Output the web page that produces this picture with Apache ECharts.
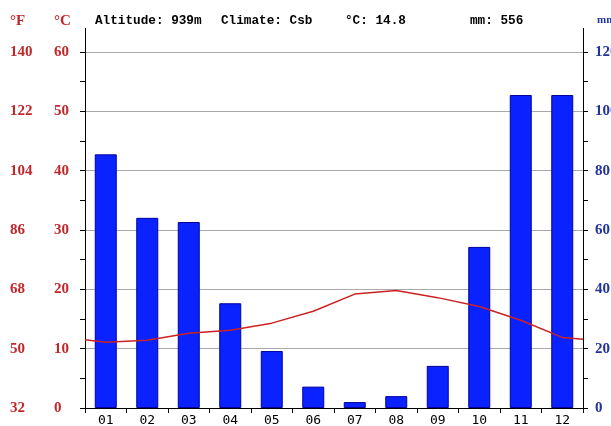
<!DOCTYPE html>
<html><head><meta charset="utf-8">
<script src="https://cdn.jsdelivr.net/npm/echarts@6/dist/echarts.min.js"></script>
<style>html,body{margin:0;padding:0;background:#fff}#c{width:611px;height:426px}</style>
</head><body><div id="c"></div>
<script>
const months = ['01','02','03','04','05','06','07','08','09','10','11','12'];
const precipMM = [85.5, 64.1, 62.7, 35.3, 19.2, 7.2, 2.0, 4.0, 14.2, 54.3, 105.5, 105.5];
const tempC = [11.1, 11.4, 12.6, 13.1, 14.3, 16.3, 19.2, 19.8, 18.6, 17.1, 14.8, 11.9];
const tempEdgeLeft = 11.5, tempEdgeRight = 11.6;
const celsiusTicks = [0, 10, 20, 30, 40, 50, 60];
const fahrenheitLabels = ['32','50','68','86','104','122','140'];
const mmTicks = [0, 20, 40, 60, 80, 100, 120];
const altitude = '939m', climate = 'Csb', meanC = '14.8', totalMM = '556';

const tempPoints = [[0, tempEdgeLeft]].concat(tempC.map((v, i) => [i + 0.5, v])).concat([[12, tempEdgeRight]]);

const red = '#c0282c', navy = '#2233a0';
const GL = 85, GR = 28, GT = 52, GB = 18;
const chart = echarts.init(document.getElementById('c'));
const hdrFont = 'bold 12.7px "Liberation Mono"';
const axFont = 'Liberation Serif';
chart.setOption({
  animation: false,
  grid: { left: GL, right: GR, top: GT, bottom: GB, outerBoundsMode: 'none', containLabel: false },
  graphic: [
    { type: 'text', left: 95, top: 14, style: { text: 'Altitude: ' + altitude, font: hdrFont, fill: '#000' } },
    { type: 'text', left: 221, top: 14, style: { text: 'Climate: ' + climate, font: hdrFont, fill: '#000' } },
    { type: 'text', left: 345, top: 14, style: { text: '°C: ' + meanC, font: hdrFont, fill: '#000' } },
    { type: 'text', left: 470, top: 14, style: { text: 'mm: ' + totalMM, font: hdrFont, fill: '#000' } },
    { type: 'text', left: 10, top: 14, style: { text: '°F', font: 'bold 15px "' + axFont + '"', fill: red } },
    { type: 'text', left: 54, top: 14, style: { text: '°C', font: 'bold 15px "' + axFont + '"', fill: red } },
    { type: 'text', left: 597, top: 15, style: { text: 'mm', font: 'bold 11px "' + axFont + '"', fill: navy } },
    { type: 'line', shape: { x1: GL + 0.5, y1: 28, x2: GL + 0.5, y2: GT }, style: { stroke: '#000', lineWidth: 1 } },
    { type: 'line', shape: { x1: 611 - GR + 0.5, y1: 28, x2: 611 - GR + 0.5, y2: GT }, style: { stroke: '#000', lineWidth: 1 } }
  ],
  xAxis: [
    { type: 'category', data: months, boundaryGap: true,
      axisLine: { lineStyle: { color: '#000', width: 1 } },
      axisTick: { show: true, length: 5, lineStyle: { color: '#000' } },
      axisLabel: { color: '#000', fontFamily: 'DejaVu Sans Mono', fontSize: 13, margin: 6 } },
    { type: 'value', min: 0, max: 12, show: false }
  ],
  yAxis: [
    { type: 'value', position: 'left', min: 0, max: 60, interval: 10,
      axisLine: { show: true, lineStyle: { color: '#000' } },
      axisTick: { show: true, length: 5, lineStyle: { color: '#000' } },
      minorTick: { show: true, splitNumber: 2, length: 5, lineStyle: { color: '#000' } },
      splitLine: { show: true, lineStyle: { color: '#aaaaaa', width: 1 } },
      axisLabel: { color: red, fontFamily: axFont, fontWeight: 'bold', fontSize: 15, align: 'left', margin: 31,
        formatter: v => String(celsiusTicks[v / 10]) } },
    { type: 'value', position: 'left', min: 0, max: 60, interval: 10,
      axisLine: { show: false }, axisTick: { show: false }, splitLine: { show: false },
      axisLabel: { color: red, fontFamily: axFont, fontWeight: 'bold', fontSize: 15, align: 'left', margin: 75,
        formatter: v => fahrenheitLabels[v / 10] } },
    { type: 'value', position: 'right', min: 0, max: 120, interval: 20,
      axisLine: { show: true, lineStyle: { color: '#000' } },
      axisTick: { show: true, length: 5, lineStyle: { color: '#000' } },
      minorTick: { show: true, splitNumber: 2, length: 5, lineStyle: { color: '#000' } },
      splitLine: { show: false },
      axisLabel: { color: navy, fontFamily: axFont, fontWeight: 'bold', fontSize: 15, align: 'left', margin: 12,
        formatter: v => String(mmTicks[v / 20]) } }
  ],
  series: [
    { type: 'bar', data: precipMM, xAxisIndex: 0, yAxisIndex: 2, barWidth: 22,
      itemStyle: { color: '#0a22ff', borderColor: '#0000a0', borderWidth: 1 }, z: 2 },
    { type: 'line', data: tempPoints, xAxisIndex: 1, yAxisIndex: 0, symbol: 'none', smooth: false,
      lineStyle: { color: '#cc2222', width: 1.5 }, z: 3 }
  ]
});
</script></body></html>
